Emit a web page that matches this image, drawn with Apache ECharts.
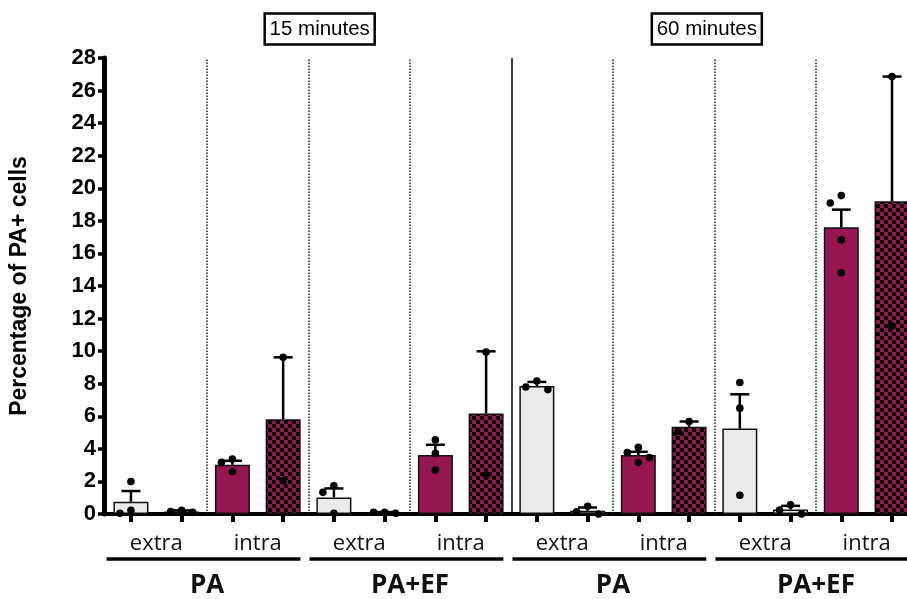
<!DOCTYPE html>
<html><head><meta charset="utf-8">
<script src="https://cdn.jsdelivr.net/npm/echarts@6/dist/echarts.min.js"></script>
<style>html,body{margin:0;padding:0;background:#fff}#c{width:907px;height:599px}</style>
</head><body><div id="c"></div>
<script>
// ---- data ----
const timeLabels = ['15 minutes', '60 minutes'];
const treatmentLabels = ['PA', 'PA+EF', 'PA', 'PA+EF'];
const locationLabels = ['extra', 'intra', 'extra', 'intra', 'extra', 'intra', 'extra', 'intra'];
const yTicks = [0, 2, 4, 6, 8, 10, 12, 14, 16, 18, 20, 22, 24, 26, 28];
const means = [0.75, 0.15, 3.02, 5.82, 1.02, 0.08, 3.63, 6.17, 7.86, 0.20, 3.62, 5.35, 5.25, 0.27, 17.60, 19.20];
const errUpper = [1.41, 0.22, 3.27, 9.62, 1.57, 0.12, 4.25, 9.99, 8.11, 0.40, 3.82, 5.68, 7.35, 0.50, 18.69, 26.86];
const points = [
  [2.00, 0.05, 0.22], [0.10, 0.15, 0.22], [3.37, 3.17, 2.59], [9.62, 2.04],
  [1.73, 1.33, 0.05], [0.05, 0.10, 0.10], [4.55, 3.72, 2.70], [9.95, 2.39],
  [8.17, 7.64, 7.80], [0.47, 0.00, 0.13], [3.78, 4.09, 3.17, 3.47], [5.68, 5.07],
  [8.07, 6.50, 1.15], [0.57, 0.24, 0.00], [19.10, 19.55, 16.83, 14.81], [26.86, 11.54]
];

// ---- styles ----
const LIGHT = '#ebebeb', CRIMSON = '#961650';
function checkerCanvas() {
  const c = document.createElement('canvas'); c.width = 8; c.height = 8;
  const g = c.getContext('2d');
  g.fillStyle = CRIMSON; g.fillRect(0, 0, 8, 8);
  g.fillStyle = '#000'; g.fillRect(0, 0, 4, 4); g.fillRect(4, 4, 4, 4);
  return c;
}
const checker = { image: checkerCanvas(), repeat: 'repeat' };
function barColor(i) { const k = i % 4; return k < 2 ? LIGHT : (k === 2 ? CRIMSON : checker); }

// beeswarm-like horizontal spreading of points (computed, not typed)
const PX_PER_UNIT = 16.34, STEP = 11;
const pointData = [];
points.forEach((vals, i) => {
  const order = vals.map((v, k) => k).sort((a, b) => vals[b] - vals[a]);
  const placed = [];
  order.forEach(k => {
    const y = vals[k] * PX_PER_UNIT;
    const cands = [0, -STEP, STEP, -2 * STEP, 2 * STEP];
    let off = 0;
    for (const c of cands) {
      if (placed.every(p => Math.hypot(p.x - c, p.y - y) >= 11)) { off = c; break; }
    }
    placed.push({ x: off, y });
    pointData.push([i, vals[k], off]);
  });
});

const sepDotted = [1.5, 3.5, 5.5, 9.5, 11.5, 13.5];
const sepSolid = [7.5];
const markData = [];
sepDotted.forEach(x => markData.push([{ coord: [x, 0], lineStyle: { type: 'dotted', width: 1.5, color: '#222' } }, { coord: [x, 28] }]));
sepSolid.forEach(x => markData.push([{ coord: [x, 0], lineStyle: { type: 'solid', width: 1.5, color: '#000' } }, { coord: [x, 28] }]));

const FONT_SANS = '"Liberation Sans", Arial, sans-serif';
const FONT_LBL = '"Open Sans", sans-serif';
const XMIN = -0.531, XMAX = 15.295;

const chart = echarts.init(document.getElementById('c'));
const option = {
  animation: false,
  backgroundColor: '#fff',
  grid: { left: 103, right: 0, top: 58, bottom: 83.5, containLabel: false },
  xAxis: [{
    type: 'value', min: XMIN, max: XMAX,
    splitLine: { show: false },
    axisLine: { show: true, onZero: false, lineStyle: { color: '#000', width: 4 } },
    axisTick: { show: true, customValues: means.map((m, i) => i), length: 8, lineStyle: { color: '#000', width: 4 } },
    axisLabel: {
      show: true, customValues: locationLabels.map((l, k) => 2 * k + 0.5),
      formatter: v => locationLabels[Math.round((v - 0.5) / 2)],
      margin: 19, fontFamily: FONT_LBL, fontSize: 22, color: '#111'
    }
  }, {
    type: 'value', min: XMIN, max: XMAX, position: 'bottom',
    splitLine: { show: false }, axisLine: { show: false, onZero: false }, axisTick: { show: false },
    axisLabel: {
      show: true, customValues: treatmentLabels.map((l, k) => 4 * k + 1.5),
      formatter: v => treatmentLabels[Math.round((v - 1.5) / 4)],
      margin: 59, fontFamily: FONT_LBL, fontWeight: 'bold', fontSize: 26, color: '#111'
    }
  }],
  yAxis: {
    type: 'value', min: yTicks[0], max: yTicks[yTicks.length - 1], interval: 2,
    name: 'Percentage of PA+ cells', nameLocation: 'middle', nameGap: 73,
    nameTextStyle: { fontFamily: FONT_SANS, fontWeight: 'bold', fontSize: 23, color: '#000' },
    splitLine: { show: false },
    axisLine: { show: true, onZero: false, lineStyle: { color: '#000', width: 5 } },
    axisTick: { show: true, length: 6, lineStyle: { color: '#000', width: 3.5 } },
    axisLabel: { margin: 8, fontFamily: FONT_SANS, fontWeight: 'bold', fontSize: 22, color: '#000' }
  },
  series: [{
    type: 'bar', barWidth: 35, z: 2,
    data: means.map((m, i) => ({ value: [i, m], itemStyle: { color: barColor(i), borderColor: '#111', borderWidth: 1.5 } })),
    markLine: { silent: true, symbol: 'none', label: { show: false }, data: markData, z: 1 }
  }, {
    type: 'custom', z: 3,
    data: means.map((m, i) => [i, m, errUpper[i]]),
    renderItem: (params, api) => {
      const p0 = api.coord([api.value(0), api.value(1)]);
      const p1 = api.coord([api.value(0), api.value(2)]);
      const st = { stroke: '#000', lineWidth: 2.5 };
      return { type: 'group', children: [
        { type: 'line', shape: { x1: p0[0], y1: p0[1], x2: p1[0], y2: p1[1] }, style: st },
        { type: 'line', shape: { x1: p1[0] - 9.5, y1: p1[1], x2: p1[0] + 9.5, y2: p1[1] }, style: st }
      ] };
    }
  }, {
    type: 'custom', z: 4,
    data: pointData,
    renderItem: (params, api) => {
      const p = api.coord([api.value(0), api.value(1)]);
      return { type: 'circle', shape: { cx: p[0] + api.value(2), cy: p[1], r: 3.8 }, style: { fill: '#000' } };
    }
  }]
};
chart.setOption(option);

// group underlines & time boxes (positions from the axis scale)
const yLine = 559;
const gfx = [];
treatmentLabels.forEach((t, g) => {
  const x1 = chart.convertToPixel({ xAxisIndex: 0 }, 4 * g - 0.48);
  const x2 = chart.convertToPixel({ xAxisIndex: 0 }, 4 * g + 3.34);
  gfx.push({ type: 'line', shape: { x1, y1: yLine, x2, y2: yLine }, style: { stroke: '#000', lineWidth: 3.5 } });
});
timeLabels.forEach((t, k) => {
  const cx = chart.convertToPixel({ xAxisIndex: 0 }, k === 0 ? 3.72 : 11.35);
  gfx.push({ type: 'rect', shape: { x: cx - 55, y: 13.5, width: 110, height: 31 }, style: { fill: '#fff', stroke: '#000', lineWidth: 2.5 } });
  gfx.push({ type: 'text', x: cx, y: 29.5, style: { text: t, font: '20.5px ' + FONT_SANS, fill: '#000', align: 'center', verticalAlign: 'middle' } });
});
chart.setOption({ graphic: gfx });
</script>
</body></html>
